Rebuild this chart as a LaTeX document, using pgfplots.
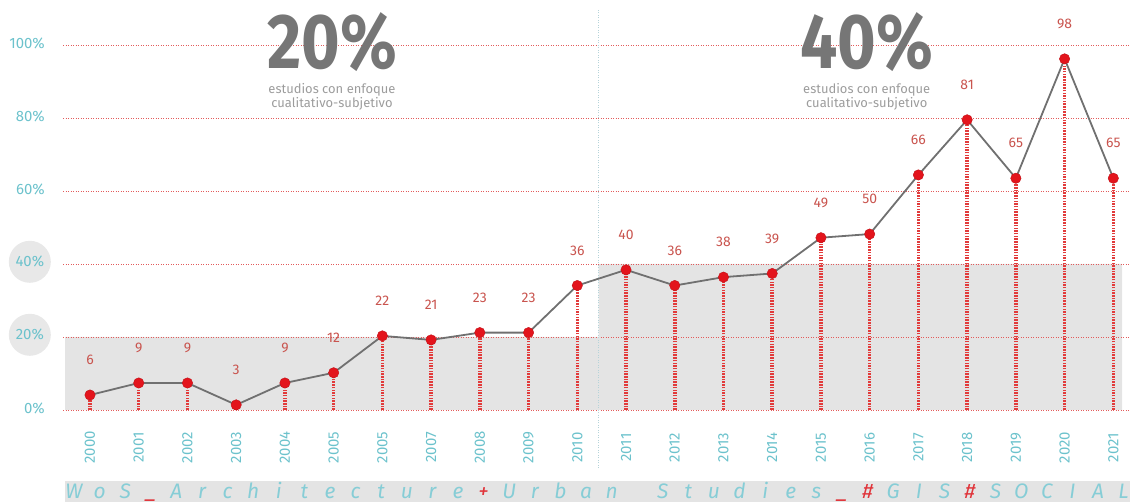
\documentclass[border=0pt]{standalone}
\usepackage{fontspec}
\setmainfont{Fira Sans}
\usepackage{graphicx}
\usepackage{pgfplots}
\usepackage{pgfplotstable}
\pgfplotsset{compat=1.18}

\definecolor{teal1}{HTML}{6CC2CC}
\definecolor{bandteal}{HTML}{86CDD6}
\definecolor{bandred}{HTML}{E0343A}
\definecolor{gridred}{HTML}{E35B5B}
\definecolor{stemred}{HTML}{E23B3B}
\definecolor{markred}{HTML}{E3141C}
\definecolor{lblred}{HTML}{C9544E}
\definecolor{linegray}{HTML}{707070}
\definecolor{fillgray}{HTML}{E4E4E4}
\definecolor{circgray}{HTML}{E8E8E8}
\definecolor{biggray}{HTML}{767676}
\definecolor{subgray}{HTML}{9C9C9C}
\definecolor{divblue}{HTML}{B5D3D9}

\pgfplotstableread{
x y lab
0 4.1 6
1 7.4 9
2 7.4 9
3 1.4 3
4 7.4 9
5 10.2 12
6 20.3 22
7 19.2 21
8 21.2 23
9 21.2 23
10 34.1 36
11 38.4 40
12 34.1 36
13 36.4 38
14 37.4 39
15 47.2 49
16 48.2 50
17 64.4 66
18 79.5 81
19 63.5 65
20 96.2 98
21 63.5 65
}\datatable

\begin{document}
\begin{tikzpicture}
\begin{axis}[
  scale only axis, width=1130bp, height=502bp,
  xmin=-1.847, xmax=21.342, ymin=-25.21, ymax=112.33,
  clip=false,
  axis line style={draw=none},
  major tick length=0pt,
  ytick=\empty,
  xtick={0,...,21},
  xticklabels={2000,2001,2002,2003,2004,2005,2005,2007,2008,2009,2010,2011,2012,2013,2014,2015,2016,2017,2018,2019,2020,2021},
  xticklabel shift=-54.5bp,
  xticklabel style={rotate=90, anchor=center, inner sep=0pt, text=teal1, font=\fontsize{15}{15}\selectfont},
]
% shaded areas
\addplot[fill=fillgray, draw=none] coordinates {(-0.513,0) (-0.513,20) (10.44,20) (10.44,40) (21.18,40) (21.18,0)} -- cycle;
\addplot[fill=fillgray, draw=none] coordinates {(-0.513,-19.5) (21.342,-19.5) (21.342,-25.21) (-0.513,-25.21)} -- cycle;
% grid lines
\pgfplotsinvokeforeach{0,20,40,60,80,100}{
  \addplot[gridred, line width=0.7bp, dash pattern=on 1.2bp off 1.3bp] coordinates {(-0.554,#1) (21.342,#1)};
}
% divider
\addplot[divblue, line width=0.8bp, dash pattern=on 1bp off 1.5bp] coordinates {(10.44,-15.9) (10.44,109.6)};
% stems
\addplot[ycomb, stemred, line width=3.5bp, dash pattern=on 1.5bp off 1.2bp] table[x=x,y=y]{\datatable};
% line with markers
\addplot[linegray, line width=1.8bp, mark=*, mark size=5.2bp,
  mark options={fill=markred, draw=markred!85!black, line width=0.4bp, solid},
  nodes near coords, point meta=explicit symbolic,
  nodes near coords style={anchor=center, yshift=35bp, inner sep=0pt, text=lblred, font=\fontsize{14}{14}\selectfont}]
  table[x=x, y=y, meta=lab]{\datatable};
% y axis labels
\pgfplotsinvokeforeach{0,60,80,100}{
  \node[anchor=east, inner sep=0pt, text=teal1, font=\fontsize{15}{15}\selectfont, yshift=2bp] at (axis cs:-0.923,#1) {#1\%};
}
\pgfplotsinvokeforeach{20,40}{
  \node[circle, fill=circgray, minimum size=42bp, inner sep=0pt, text=teal1, font=\fontsize{15}{15}\selectfont] at (axis cs:-1.235,#1.6) {#1\%};
}
% big headings
\node[text=biggray, font=\fontsize{78}{78}\selectfont\bfseries, anchor=center, inner sep=0pt] at (axis cs:4.966,101.1) {\raisebox{0pt}[\height][0pt]{\scalebox{0.85}[1]{20\%}}};
\node[text=subgray, align=center, font=\fontsize{13}{13.5}\selectfont, inner sep=0pt] at (axis cs:4.966,85.8) {estudios con enfoque\\cualitativo-subjetivo};
\node[text=biggray, font=\fontsize{78}{78}\selectfont\bfseries, anchor=center, inner sep=0pt] at (axis cs:15.94,101.1) {\raisebox{0pt}[\height][0pt]{\scalebox{0.85}[1]{40\%}}};
\node[text=subgray, align=center, font=\fontsize{13}{13.5}\selectfont, inner sep=0pt] at (axis cs:15.94,85.8) {estudios con enfoque\\cualitativo-subjetivo};
\end{axis}
% bottom band lettering
\foreach \c/\col [count=\i from 0] in {W/bandteal, o/bandteal, S/bandteal, \_/bandred, A/bandteal, r/bandteal, c/bandteal, h/bandteal, i/bandteal, t/bandteal, e/bandteal, c/bandteal, t/bandteal, u/bandteal, r/bandteal, e/bandteal, +/bandred, U/bandteal, r/bandteal, b/bandteal, a/bandteal, n/bandteal, {}/bandteal, S/bandteal, t/bandteal, u/bandteal, d/bandteal, i/bandteal, e/bandteal, s/bandteal, \_/bandred, \#/bandred, G/bandteal, I/bandteal, S/bandteal, \#/bandred, S/bandteal, O/bandteal, C/bandteal, I/bandteal, A/bandteal, L/bandteal}{
  \pgfmathsetmacro\xx{74+25.6*\i}
  \node[anchor=base, inner sep=0pt, text=\col, font=\fontsize{21}{21}\selectfont\itshape] at (\xx bp,4bp) {\c};
}
\pgfresetboundingbox
\path[use as bounding box] (0,0) rectangle (1130bp,502bp);
\end{tikzpicture}
\end{document}
